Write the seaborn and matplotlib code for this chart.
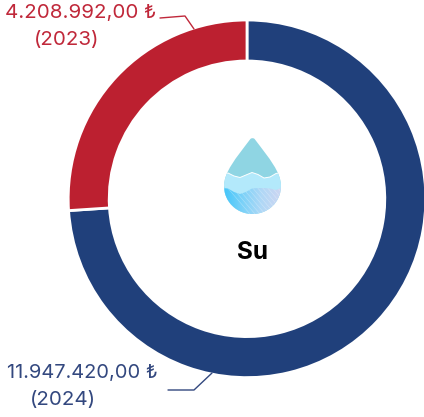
import numpy as np
import seaborn as sns
import matplotlib.pyplot as plt
from matplotlib.path import Path
from matplotlib.patches import PathPatch, Polygon

# values, in slice order from 12 o'clock going clockwise
years = ['2024', '2023']
values = [11947420.00, 4208992.00]
value_labels = ['11.947.420,00 ₺', '4.208.992,00 ₺']
title = 'Su'

sns.set_theme(style='white')
plt.rcParams['font.family'] = ['Inter', 'DejaVu Sans']
colors = sns.color_palette(['#20407b', '#bc2030'])

fig = plt.figure(figsize=(4.24, 4.17), dpi=100)
ax = fig.add_axes([0, 0, 1, 1])

# pixel style axes, y measured from the top through H - y
W, H = 424, 417
cx, cy = 247, H - 198.8
ax.pie(values, colors=colors, startangle=90, counterclock=False,
       center=(cx, cy), radius=178.8,
       wedgeprops=dict(width=41, edgecolor='white', linewidth=2))

# labels and leader lines
ax.text(80.5, H - 13, value_labels[1], color='#c0283a', fontsize=14.8, ha='center', va='center')
ax.text(66.5, H - 40, '(' + years[1] + ')', color='#c0283a', fontsize=14.8, ha='center', va='center')
ax.plot([160, 185, 194], [H - 18, H - 16, H - 29], color='#c0283a', lw=1)

ax.text(82.5, H - 373, value_labels[0], color='#33487f', fontsize=14.4, ha='center', va='center')
ax.text(62.5, H - 400, '(' + years[0] + ')', color='#33487f', fontsize=14.8, ha='center', va='center')
ax.plot([168, 194, 212], [H - 390, H - 390, H - 373], color='#33487f', lw=1)

ax.text(252, H - 252.5, title, color='black', fontsize=17.5, fontweight='bold',
        ha='center', va='center')

# water drop icon
drop_verts = [(250, 139.5),
              (236, 158), (224, 172), (224, 186),
              (224, 202), (237, 214), (252.5, 214),
              (268, 214), (281, 202), (281, 186),
              (281, 172), (269, 158), (255, 139.5),
              (254, 137.7), (251, 137.7), (250, 139.5)]
drop_codes = [Path.MOVETO] + [Path.CURVE4] * 15
drop = PathPatch(Path([(x, H - y) for x, y in drop_verts], drop_codes),
                 facecolor='#8fd5e3', edgecolor='none', zorder=3)
ax.add_patch(drop)

wave_x = np.array([222, 228, 234, 240, 246, 252, 258, 264, 270, 276, 283])
wave1_y = np.array([174, 173, 176, 177.5, 175, 172.5, 174.5, 178, 177, 173.5, 172])
wave2_y = np.array([188, 188.5, 192, 194, 192, 188.5, 188, 188, 188.5, 190, 187])

# middle band
mid = ax.fill(np.r_[wave_x, 283, 222], np.r_[H - wave1_y, H - 220, H - 220],
              color='#b3e9fb', lw=0, zorder=4)[0]
mid.set_clip_path(drop)
line = ax.plot(wave_x, H - wave1_y, color='white', lw=0.7, zorder=4.5)[0]
line.set_clip_path(drop)

# lower band: wave on top, round bottom of the drop below it
xs = np.linspace(224, 281, 80)
top = np.interp(xs, wave_x, wave2_y)
bottom = 186 + 28 * np.sqrt(np.clip(1 - ((xs - 252.5) / 28.5) ** 2, 0, 1))
lower = Polygon(np.c_[np.r_[xs, xs[::-1]], H - np.r_[top, bottom[::-1]]],
                closed=True, facecolor='none', edgecolor='none', zorder=5)
ax.add_patch(lower)

fade = np.linspace(0, 1, 64)[None, :]
cmap = sns.blend_palette(['#45c6fa', '#7dd2f8', '#b0d8f6', '#cdd6f2'], as_cmap=True)
im = ax.imshow(fade, extent=(224, 281, H - 216, H - 186), cmap=cmap, aspect='auto', zorder=5)
im.set_clip_path(lower)

# faint diagonal streaks on the lower band
for x0 in np.arange(226, 290, 5):
    streak = ax.plot([x0, x0 + 24], [H - 186, H - 214], color='white', lw=0.4,
                     alpha=0.35, zorder=6)[0]
    streak.set_clip_path(lower)

ax.set_xlim(0, W)
ax.set_ylim(0, H)
ax.set_aspect('equal')
ax.axis('off')

fig.savefig('out.png', dpi=100)
